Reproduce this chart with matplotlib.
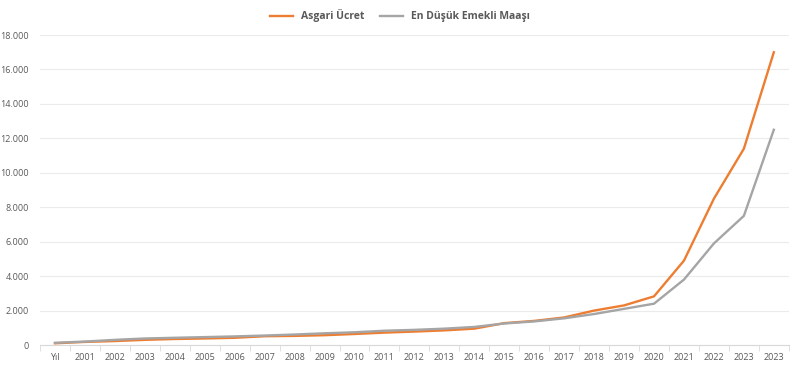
import numpy as np
import matplotlib.pyplot as plt
from matplotlib.ticker import FuncFormatter

years = ['Yıl'] + [str(y) for y in range(2001, 2023)] + ['2023', '2023']
asgari = [100, 180, 230, 300, 350, 380, 420, 510, 530, 570, 640, 720, 780, 850, 950,
          1270, 1400, 1600, 2000, 2300, 2825, 4900, 8500, 11400, 17000]
emekli = [130, 200, 300, 380, 420, 460, 500, 550, 610, 680, 740, 830, 880, 950, 1050,
          1250, 1370, 1550, 1800, 2100, 2400, 3800, 5900, 7500, 12500]

plt.rcParams['font.family'] = ['Open Sans', 'DejaVu Sans']

fig = plt.figure(figsize=(8, 3.69), dpi=100)
ax = fig.add_axes([0.05, 0.065, 0.936, 0.84])

x = np.arange(len(years))
ax.plot(x, asgari, color='#ED7D31', lw=1.7, label='Asgari Ücret')
ax.plot(x, emekli, color='#A5A5A5', lw=1.7, label='En Düşük Emekli Maaşı')

ax.set_xlim(-0.5, len(years) - 0.5)
ax.set_ylim(0, 18000)
ax.set_yticks(np.arange(0, 18001, 2000))
ax.yaxis.set_major_formatter(FuncFormatter(lambda v, p: f'{int(v):,}'.replace(',', '.')))
ax.set_xticks(x)
ax.set_xticklabels(years)
ax.set_xticks(np.arange(-0.5, len(years), 1), minor=True)
ax.tick_params(axis='x', which='major', length=0, pad=6, labelsize=6.5, colors='#595959')
ax.tick_params(axis='x', which='minor', length=4, color='#D9D9D9')
ax.tick_params(axis='y', length=0, labelsize=6.5, colors='#595959', pad=8)
ax.grid(axis='y', color='#EBEBEB', lw=0.8)
ax.set_axisbelow(True)
for s in ['top', 'right', 'left']:
    ax.spines[s].set_visible(False)
ax.spines['bottom'].set_color('#D9D9D9')

fig.legend(loc='upper center', bbox_to_anchor=(0.5, 1.0), ncol=2, frameon=False,
           prop={'size': 7.5, 'weight': 'bold'}, labelcolor='#595959', handlelength=2.2,
           columnspacing=1.5)

fig.savefig('out.png', dpi=100)
